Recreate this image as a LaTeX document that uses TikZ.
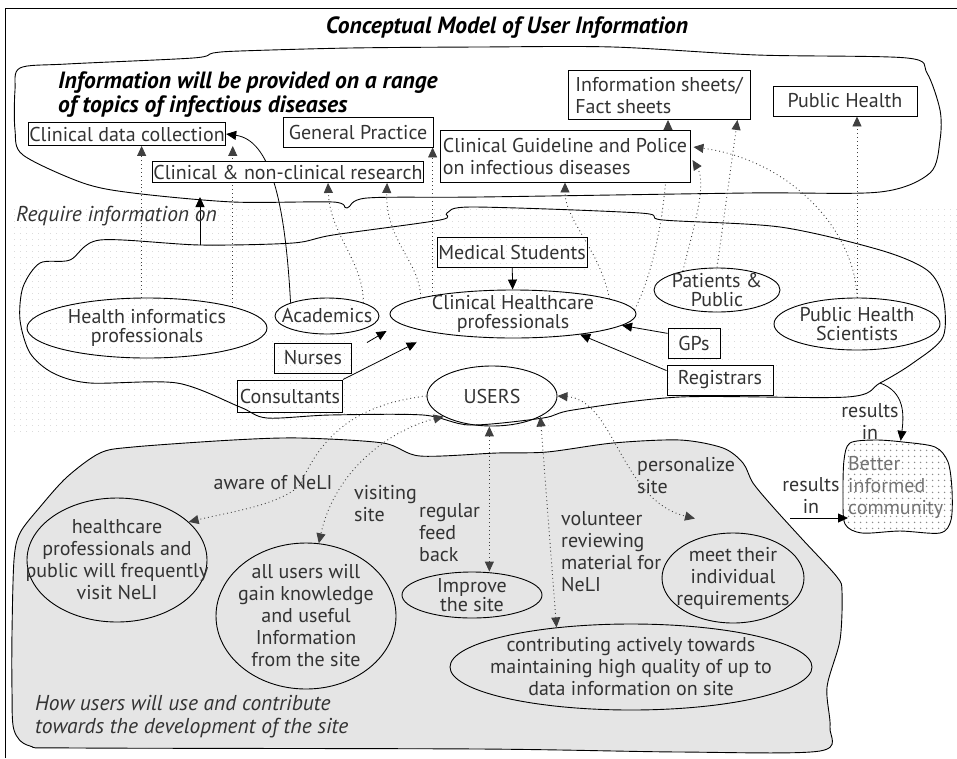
\documentclass[tikz,border=0pt]{standalone}
\usepackage{fontspec}
\setmainfont{PT Sans}
\usetikzlibrary{calc,positioning,shapes,arrows.meta,patterns}

\pgfdeclarepatternformonly{banddots}{\pgfpointorigin}{\pgfpoint{6pt}{6pt}}{\pgfpoint{6pt}{6pt}}{\pgfpathcircle{\pgfpoint{3pt}{3pt}}{0.45pt}\pgfusepath{fill}}
\pgfdeclarepatternformonly{comdots}{\pgfpointorigin}{\pgfpoint{6pt}{6pt}}{\pgfpoint{6pt}{6pt}}{\pgfpathcircle{\pgfpoint{3pt}{3pt}}{0.9pt}\pgfusepath{fill}}

\pgfdeclarelayer{back}
\pgfdeclarelayer{links}
\pgfsetlayers{back,links,main}

\newcommand{\txt}{\fontsize{20}{22}\selectfont}
\newcommand{\tighttxt}{\fontsize{20}{19.5}\selectfont}
\newcommand{\hdtxt}{\fontsize{23.5}{24}\selectfont\bfseries\itshape}
\newcommand{\ittxt}{\fontsize{21.5}{23}\selectfont\itshape}

\tikzset{
  box/.style={draw, line width=0.9pt, inner sep=1pt, font=\txt, text=black!80},
  oval/.style={draw, ellipse, line width=0.9pt, inner sep=-30pt, align=center, font=\txt, text=black!80},
  lbl/.style={font=\txt, text=black!80, align=left, inner sep=0pt},
  arr/.style={line width=0.8pt, -{Triangle[length=10pt,width=9pt]}},
  dotarr/.style={line width=0.9pt, black!75, dash pattern=on 0.9pt off 3pt, -{Triangle[length=10pt,width=9pt]}},
  dotboth/.style={dotarr, {Triangle[length=10pt,width=9pt]}-{Triangle[length=10pt,width=9pt]}},
  blob/.style={line width=0.9pt}
}

\begin{document}
\begin{tikzpicture}[x=1pt,y=-1pt]
\useasboundingbox (0,0) rectangle (957,758);

% frame and title
\draw[line width=1pt] (5,758) -- (5,8) -- (957,8);
\node[font=\hdtxt] (title) at (507,28) {Conceptual Model of User Information};

% the three clouds
\begin{pgfonlayer}{back}
\fill[pattern=banddots, pattern color=black!25] (12,205) rectangle (957,432);
\draw[blob] plot[smooth cycle, tension=.5] coordinates {(20,68) (67,64) (193,58) (213,53) (240,51) (350,48) (480,47) (613,47) (757,55) (907,58) (927,73) (940,110) (940,140) (930,173) (880,192) (747,193) (480,197) (367,198) (347,208) (333,202) (233,202) (133,193) (83,183) (23,155) (15,130) (15,90)};
\draw[blob] plot[smooth cycle, tension=.5] coordinates {(100,240) (200,245) (293,243) (333,235) (440,220) (447,213) (473,207) (640,213) (663,220) (780,227) (880,250) (927,270) (943,297) (943,337) (913,363) (880,383) (847,397) (680,397) (573,410) (543,418) (470,425) (423,415) (330,415) (267,418) (240,407) (177,383) (90,383) (53,373) (30,353) (20,320) (23,287) (40,263) (70,260)};
\filldraw[blob, fill=black!10] plot[smooth cycle, tension=.5] coordinates {(133,447) (233,440) (300,438) (383,443) (420,456) (497,453) (547,452) (613,443) (680,440) (723,448) (743,463) (753,483) (773,507) (803,540) (837,577) (842,592) (840,640) (827,687) (830,727) (820,751) (680,752) (480,749) (80,748) (30,746) (14,730) (12,690) (12,633) (14,560) (20,533) (40,507) (67,477) (100,453)};
\draw[blob, pattern=comdots, pattern color=black!45] plot[smooth cycle, tension=.5] coordinates {(850,443) (875,440) (903,442) (935,447) (948,462) (952,490) (951,520) (940,533) (900,531) (862,533) (845,524) (843,495) (844,460)};
\end{pgfonlayer}

% topics
\node[font=\hdtxt, align=left, anchor=north west, inner sep=0pt] (topic) at (58,72) {Information will be provided on a range\\of topics of infectious diseases};
\node[box, fill=white, minimum width=197pt, minimum height=23pt] (cdc) at (127,134) {Clinical data collection};
\node[box, fill=white, minimum width=150pt, minimum height=30pt] (gp) at (358,132) {General Practice};
\node[box, fill=white, minimum width=262pt, minimum height=21pt] (cnr) at (288,172) {Clinical \& non-clinical research};
\node[box, fill=white, align=left, minimum width=250pt, minimum height=52pt] (cgp) at (565,156) {Clinical Guideline and Police\\on infectious diseases};
\node[box, fill=white, align=left, minimum width=182pt, minimum height=49pt] (info) at (659,95) {Information sheets/\\Fact sheets};
\node[box, fill=white, minimum width=144pt, minimum height=30pt] (ph) at (845,101) {Public Health};

% user groups
\node[box, minimum width=150pt, minimum height=30pt] (med) at (512,252) {Medical Students};
\node[oval, font=\tighttxt, minimum width=240pt, minimum height=60pt] (hip) at (147,328) {Health informatics\\professionals};
\node[oval, minimum width=104pt, minimum height=36pt] (acad) at (327,316) {Academics};
\node[oval, font=\tighttxt, minimum width=246pt, minimum height=48pt] (chp) at (513,314) {Clinical Healthcare\\professionals};
\node[oval, font=\tighttxt, minimum width=126pt, minimum height=44pt] (pp) at (717,290) {Patients \&\\Public};
\node[oval, font=\tighttxt, minimum width=166pt, minimum height=52pt] (phs) at (857,324) {Public Health\\Scientists};
\node[box, minimum width=77pt, minimum height=30pt] (nurses) at (313,358) {Nurses};
\node[box, minimum width=105pt, minimum height=32pt] (cons) at (290,396) {Consultants};
\node[box, minimum width=52pt, minimum height=30pt] (gps) at (694,343) {GPs};
\node[box, minimum width=106pt, minimum height=30pt] (reg) at (720,380) {Registrars};
\node[oval, minimum width=130pt, minimum height=60pt] (users) at (492,396) {USERS};

% how the site is used
\node[oval, minimum width=180pt, minimum height=124pt] (hpub) at (117,560) {healthcare\\professionals and\\public will frequently\\visit NeLI};
\node[oval, minimum width=180pt, minimum height=146pt] (gain) at (306,616) {all users will\\gain knowledge\\and useful\\Information\\from the site};
\node[oval, font=\tighttxt, minimum width=140pt, minimum height=46pt] (impr) at (472,595) {Improve\\the site};
\node[oval, minimum width=142pt, minimum height=90pt] (meet) at (733,578) {meet their\\individual\\requirements};
\node[oval, minimum width=362pt, minimum height=86pt] (contrib) at (631,667) {contributing actively towards\\maintaining high quality of up to\\data information on site};
\node[lbl, text=black!55, minimum height=92pt, anchor=west] (better) at (848,487) {Better\\informed\\community};

% labels
\node[lbl, font=\ittxt, anchor=west] (req) at (16,216) {Require information on};
\node[lbl, font=\ittxt, anchor=west] (how) at (35,717) {How users will use and contribute\\towards the development of the site};
\node[lbl] (aware) at (273,482) {aware of NeLI};
\node[lbl, anchor=west] (visit) at (354,504) {visiting\\site};
\node[lbl, anchor=west] (feed) at (419,533) {regular\\feed\\back};
\node[lbl, anchor=west] (volun) at (561,552) {volunteer\\reviewing\\material for\\NeLI};
\node[lbl, anchor=west] (pers) at (637,476) {personalize\\site};
\node[lbl, align=center] (res1) at (870,421) {results\\in};
\node[lbl, align=center] (res2) at (811,495) {results\\in};

\coordinate (reqlow) at (200,245);
\coordinate (reqtop) at (200,197);
\coordinate (bandexit) at (880,383);
\coordinate (resfree) at (790,518);

\begin{pgfonlayer}{links}
\draw[dotarr] (hip.100) -- (hip.100 |- cdc.south);
\draw[dotarr] (hip.14) -- (hip.14 |- cdc.south east);
\draw[arr] (acad.160) .. controls (285,200) and (270,140) .. (cdc.east);
\draw[arr] (reqlow) -- (reqtop);
\draw[dotarr] (acad.20) .. controls (363,260) and (330,235) .. ($(cnr.south)+(40,0)$);
\draw[dotarr] (chp.170) .. controls (420,262) and (385,240) .. ($(cnr.south east)+(-37,0)$);
\draw[dotarr] (chp.167) -- (chp.167 |- gp.south east);
\draw[dotarr] (chp.9) .. controls (600,250) and (565,220) .. (cgp.south);
\draw[dotarr] (chp.2) .. controls (655,270) and (668,200) .. ($(info.south)+(9,0)$);
\draw[dotarr] (pp.151) .. controls (690,240) and (708,185) .. ($(cgp.east)+(2,4)$);
\draw[dotarr] (pp.north) -- ($(info.south east)+(-13,0)$);
\draw[dotarr] (phs.north) .. controls (855,230) and (790,160) .. ($(cgp.east)+(3,-9)$);
\draw[dotarr] (phs.north) -- (phs.north |- ph.south);
\draw[arr] (med) -- (chp);
\draw[arr] ([xshift=15pt]nurses.north east) -- ($(chp.west)+(-3,17)$);
\draw[arr] (cons.north east) -- ($(chp.south west)+(-9,11)$);
\draw[arr] (gps.160) -- (chp.354);
\draw[arr] (reg.170) -- (chp.343);
\draw[dotarr] (users.west) .. controls (350,405) and (320,440) .. (300,485) .. controls (280,505) and (230,512) .. (hpub.28);
\draw[dotboth] (users.203) .. controls (390,430) and (335,470) .. (gain.80);
\draw[dotboth] (users.265) -- (users.265 |- impr.north);
\draw[dotboth] (users.337) -- (contrib.152);
\draw[dotboth] (users.east) .. controls (615,400) and (620,500) .. ($(meet.north)+(-38,-14)$);
\draw[arr] (bandexit) .. controls (905,392) and (904,415) .. ($(better.north)+(5,0)$);
\draw[arr] (resfree) -- (better.west |- resfree);
\end{pgfonlayer}
\end{tikzpicture}
\end{document}
